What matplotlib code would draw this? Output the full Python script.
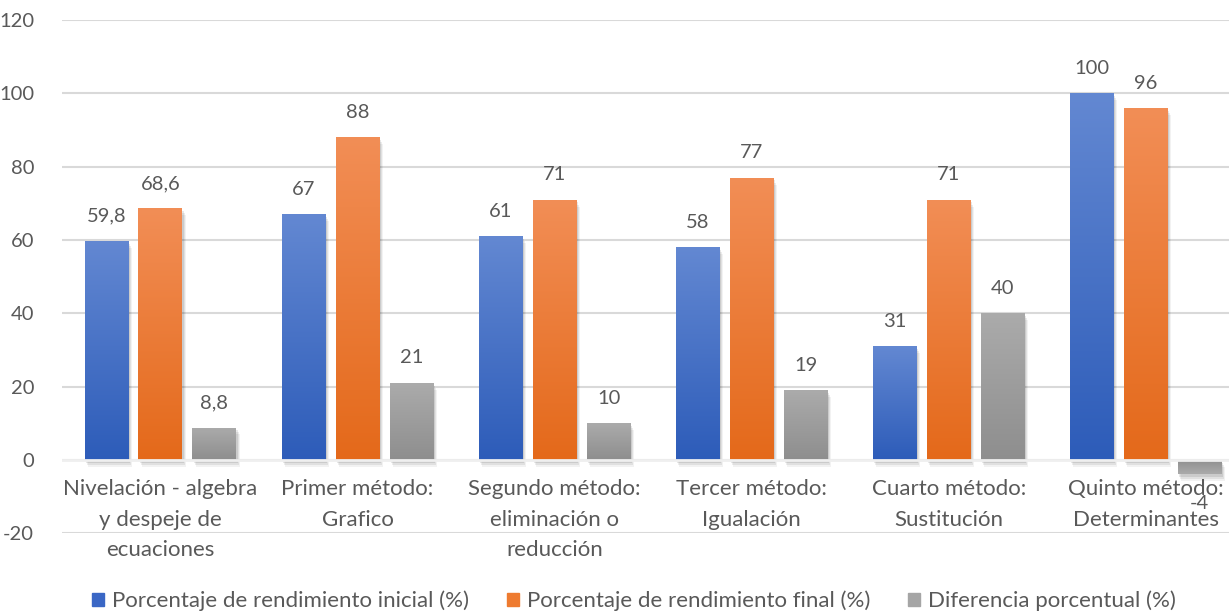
import numpy as np
import matplotlib
matplotlib.use("Agg")
import matplotlib.pyplot as plt
from matplotlib.colors import LinearSegmentedColormap
from matplotlib.patches import Patch
from matplotlib import transforms

categories = [
    "Nivelación - algebra\ny despeje de\necuaciones",
    "Primer método:\nGrafico",
    "Segundo método:\neliminación o\nreducción",
    "Tercer método:\nIgualación",
    "Cuarto método:\nSustitución",
    "Quinto método:\nDeterminantes",
]
inicial = [59.8, 67, 61, 58, 31, 100]
final = [68.6, 88, 71, 77, 71, 96]
diferencia = [8.8, 21, 10, 19, 40, -4]
series_names = [
    "Porcentaje de rendimiento inicial (%)",
    "Porcentaje de rendimiento final (%)",
    "Diferencia porcentual (%)",
]
y_ticks = [-20, 0, 20, 40, 60, 80, 100, 120]

# top / bottom colours of the gradient fills, plus the legend swatch colour
gradients = [
    ("#6388D2", "#2D5CB9", "#3A67C5"),
    ("#F28E56", "#E4691A", "#EE7B30"),
    ("#ABABAB", "#8E8E8E", "#A5A5A5"),
]
text_color = "#595959"
plt.rcParams["font.family"] = ["Lato", "DejaVu Sans"]


def fmt(v):
    s = ("%g" % v).replace(".", ",")
    return s


def gradient_bars(ax, bars, top, bottom):
    cmap = LinearSegmentedColormap.from_list("g", [bottom, top])
    grad = np.linspace(0, 1, 256).reshape(-1, 1)
    for rect in bars:
        x, y = rect.get_x(), rect.get_y()
        w, h = rect.get_width(), rect.get_height()
        y0, y1 = min(y, y + h), max(y, y + h)
        img_grad = grad if h >= 0 else grad[::-1]
        # soft shadow below/right of the bar
        for k, a in [(5, 0.05), (3.5, 0.07), (2, 0.09)]:
            sh = transforms.offset_copy(ax.transData, fig=ax.figure,
                                        x=k * 0.5, y=-k, units="points")
            ax.add_patch(plt.Rectangle((x, y0), w, y1 - y0, transform=sh,
                                       color="black", alpha=a, lw=0, zorder=2))
        rect.set_zorder(3)
        im = ax.imshow(img_grad, cmap=cmap, aspect="auto", origin="lower",
                       extent=[x, x + w, y0, y1], zorder=3, interpolation="bicubic")
        im.set_clip_path(rect)


fig = plt.figure(figsize=(12.29, 6.12), dpi=100)
ax = fig.add_axes([0.0504, 0.129, 0.962, 0.838])

x = np.arange(len(categories))
width = 0.223
offset = 0.274
all_series = [inicial, final, diferencia]
for i, vals in enumerate(all_series):
    top, bottom, _ = gradients[i]
    pos = x + (i - 1) * offset
    bars = ax.bar(pos, vals, width, color=bottom, lw=0)
    gradient_bars(ax, bars, top, bottom)
    for p, v in zip(pos, vals):
        dy = 18 if v >= 0 else -21
        ax.annotate(fmt(v), (p, v), xytext=(0, dy), textcoords="offset points",
                    ha="center", va="center", fontsize=14.5, color=text_color,
                    zorder=5)

# category labels hang just under the zero line
for xi, cat in zip(x, categories):
    ax.annotate(cat, (xi, 0), xytext=(0, -14), textcoords="offset points",
                ha="center", va="top", fontsize=16, color=text_color,
                linespacing=1.65, annotation_clip=False, zorder=5)

ax.set_xlim(-0.5, len(categories) - 0.5)
ax.set_ylim(-20, 120)
ax.set_yticks(y_ticks)
ax.set_yticklabels([str(t) for t in y_ticks])
ax.set_xticks([])
ax.tick_params(axis="y", length=0, pad=20, labelsize=14.5, labelcolor=text_color)
ax.grid(axis="y", color="#D9D9D9", lw=1.5, zorder=0)
ax.set_axisbelow(True)
ax.axhline(0, color="#EFEFEF", lw=2, zorder=4)
for s in ax.spines.values():
    s.set_visible(False)

handles = [Patch(color=g[2], label=n) for g, n in zip(gradients, series_names)]
fig.legend(handles=handles, loc="center", bbox_to_anchor=(0.516, 0.018),
           ncol=3, frameon=False, fontsize=16, labelcolor=text_color,
           handlelength=0.55, handleheight=0.55, handletextpad=0.35,
           columnspacing=1.7)

fig.savefig("out.png", dpi=100)
